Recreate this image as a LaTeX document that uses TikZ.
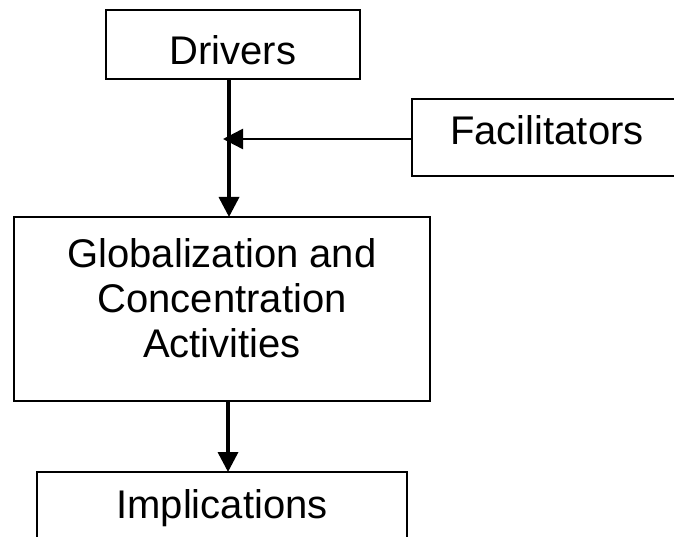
\documentclass[tikz,border=0pt]{standalone}
\usepackage{fontspec}
\setmainfont{Liberation Sans}
\usetikzlibrary{arrows.meta}
\begin{document}
\begin{tikzpicture}[x=1pt,y=-1pt,
  box/.style={draw, line width=2.7pt, rectangle, inner sep=0pt, outer sep=0pt, font=\fontsize{40}{45}\selectfont},
  label text/.style={inner sep=0pt, outer sep=0pt, align=center, font=\fontsize{40}{45}\selectfont},
  tip/.style={-{Triangle[length=20pt,width=20pt]}},
  thick arrow/.style={tip, line width=3.5pt},
  thin arrow/.style={tip, line width=2.5pt}]
\clip (0,0) rectangle (674,537);
\node[box, minimum width=254pt, minimum height=69pt, text height=41pt, text depth=0pt, anchor=base] (drivers) at (233,65) {Drivers};
\node[box, minimum width=270pt, minimum height=77pt, text height=15pt, text depth=0pt, anchor=base] (facil) at (547,145) {Facilitators};
\node[box, minimum width=416pt, minimum height=184pt] (glob) at (222,309) {};
\node[label text, anchor=base] (globtext) at (222,357) {Globalization and\\Concentration\\Activities};
\node[box, minimum width=370pt, minimum height=80pt, text height=12pt, text depth=0pt, anchor=base] (impl) at (222,518) {Implications};
\coordinate (j) at (223,139);
\coordinate (vx) at (229,0);
\coordinate (vy) at (228,0);
\draw[thick arrow] (drivers.south -| vx) -- (glob.north -| vx);
\draw[thin arrow] (facil.west |- j) -- (j);
\draw[thick arrow] (glob.south -| vy) -- (impl.north -| vy);
\end{tikzpicture}
\end{document}
